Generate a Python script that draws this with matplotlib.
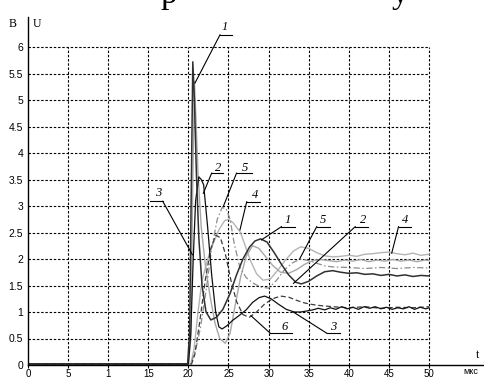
import matplotlib
matplotlib.use("Agg")
import matplotlib.pyplot as plt

# ---------------- data ----------------
x_ticks = [0, 5, 10, 15, 20, 25, 30, 35, 40, 45, 50]
x_tick_labels = ["0", "5", "1", "15", "20", "25", "30", "35", "40", "45", "50"]
y_ticks = [0, 0.5, 1, 1.5, 2, 2.5, 3, 3.5, 4, 4.5, 5, 5.5, 6]
y_tick_labels = ["0", "0.5", "1", "1.5", "2", "2.5", "3", "3.5", "4", "4.5", "5", "5.5", "6"]

# curve 1 (dark, spike)
t1 = [0, 19.9, 20.15, 20.35, 20.55, 20.75, 21.0, 21.3, 21.7, 22.2, 22.8, 23.5, 24.3, 25.2, 26.0,
      26.8, 27.6, 28.3, 29.0, 29.8, 30.7, 31.6, 32.5, 33.4, 34.1, 35.0, 36.0, 37.0, 38.0, 39.0,
      40.0, 41.0, 42.0, 43.0, 44.0, 45.0, 46.0, 47.0, 48.0, 49.0, 50.0]
v1 = [0.02, 0.02, 0.6, 3.2, 5.72, 5.0, 3.6, 2.4, 1.5, 1.0, 0.85, 0.9, 1.05, 1.35, 1.7,
      2.0, 2.22, 2.34, 2.38, 2.32, 2.12, 1.9, 1.7, 1.56, 1.53, 1.58, 1.68, 1.76, 1.78, 1.75,
      1.73, 1.74, 1.71, 1.72, 1.69, 1.71, 1.68, 1.7, 1.67, 1.69, 1.68]

# curve 2 (black, peak 3.55)
t2 = [0, 20.0, 20.3, 20.6, 20.9, 21.3, 21.6, 21.9, 22.4, 22.9, 23.4, 23.8, 24.2, 24.8, 25.5,
      26.3, 27.2, 28.0, 28.8, 29.5, 30.3, 31.2, 32.2, 33.2, 34.0, 34.8, 35.5, 36.2, 37.0, 37.7,
      38.4, 39.1, 39.8, 40.5, 41.2, 41.9, 42.6, 43.3, 44.0, 44.7, 45.4, 46.1, 46.8, 47.5, 48.2,
      48.9, 49.6, 50.0]
v2 = [0.02, 0.02, 0.6, 2.0, 3.1, 3.55, 3.5, 3.4, 2.6, 1.7, 1.0, 0.72, 0.68, 0.74, 0.84,
      0.93, 1.04, 1.18, 1.27, 1.3, 1.25, 1.15, 1.05, 1.0, 1.0, 1.02, 1.04, 1.07, 1.04, 1.08,
      1.05, 1.1, 1.06, 1.09, 1.05, 1.1, 1.07, 1.1, 1.06, 1.09, 1.05, 1.08, 1.06, 1.1, 1.05,
      1.09, 1.06, 1.08]

# curve 1' (light gray spike)
t3 = [0, 20.0, 20.3, 20.55, 20.75, 20.95, 21.2, 21.6, 22.1, 22.7, 23.3, 23.9, 24.6, 25.2, 25.8,
      26.5, 27.2, 28.0, 28.8, 29.6, 30.5, 31.5, 32.5, 33.5, 34.5, 35.5, 36.5, 37.5, 38.5, 39.5,
      40.5, 41.5, 42.5, 43.5, 44.5, 45.5, 46.5, 47.5, 48.5, 49.5, 50.0]
v3 = [0.02, 0.02, 0.5, 3.5, 5.35, 4.6, 3.6, 2.6, 1.9, 1.3, 0.8, 0.5, 0.41, 0.6, 1.1,
      1.65, 2.05, 2.25, 2.2, 2.05, 1.88, 1.75, 1.73, 1.8, 1.9, 1.97, 1.99, 1.97, 1.95, 1.98,
      1.96, 1.99, 1.95, 1.98, 1.96, 1.99, 1.96, 1.98, 1.95, 1.98, 1.97]

# curve 4 (light gray)
t4 = [0, 20.3, 20.7, 21.2, 21.7, 22.7, 23.8, 24.5, 25.0, 25.6, 26.5, 27.2, 27.8, 28.5, 29.3,
      30.2, 31.1, 32.1, 33.1, 34.0, 35.0, 36.0, 37.0, 38.0, 39.0, 40.0, 41.0, 42.0, 43.0, 44.0,
      45.0, 46.0, 47.0, 48.0, 49.0, 50.0]
v4 = [0.02, 0.02, 0.3, 1.0, 1.6, 2.15, 2.55, 2.72, 2.75, 2.68, 2.5, 2.2, 1.95, 1.72, 1.6,
      1.62, 1.78, 1.98, 2.15, 2.23, 2.2, 2.12, 2.06, 2.04, 2.05, 2.07, 2.05, 2.09, 2.1, 2.12,
      2.13, 2.1, 2.08, 2.11, 2.07, 2.09]

# curve 5 (dash-dot)
t5 = [0, 20.3, 20.6, 21.0, 21.5, 22.2, 22.9, 23.6, 24.2, 24.7, 25.2, 25.7, 26.4, 27.2, 28.0,
      29.0, 30.0, 31.0, 32.0, 33.0, 34.0, 35.0, 36.0, 37.0, 38.0, 40.0, 42.0, 44.0, 46.0, 48.0, 50.0]
v5 = [0.02, 0.02, 0.15, 0.35, 0.7, 1.4, 2.2, 2.75, 2.97, 2.95, 2.75, 2.3, 1.85, 1.65, 1.55,
      1.47, 1.45, 1.6, 1.8, 1.93, 2.0, 1.97, 1.92, 1.87, 1.85, 1.84, 1.82, 1.84, 1.82, 1.84, 1.83]

# curve 6 (dashed)
t6 = [0, 20.4, 20.8, 21.4, 22.1, 22.8, 23.4, 24.0, 24.6, 25.3, 26.0, 26.8, 27.6, 28.5, 29.5,
      30.5, 31.5, 32.5, 33.5, 34.5, 35.5, 36.5, 38.0, 40.0, 42.0, 44.0, 46.0, 48.0, 50.0]
v6 = [0.02, 0.02, 0.2, 0.8, 1.6, 2.2, 2.45, 2.4, 2.1, 1.6, 1.2, 0.95, 0.9, 1.0, 1.15,
      1.25, 1.3, 1.28, 1.22, 1.17, 1.14, 1.12, 1.1, 1.08, 1.1, 1.07, 1.09, 1.08, 1.1]

# labels: text, text position, underline, leader end
labels = ["1", "2", "5", "4", "3", "1", "5", "2", "4", "6", "3"]
label_xy = [(24.56, 6.38), (23.7, 3.72), (27.06, 3.72), (28.3, 3.21), (16.2, 3.24),
            (32.4, 2.74), (36.8, 2.74), (41.8, 2.74), (47.0, 2.74), (32.0, 0.72), (38.07, 0.72)]
under_x = [(23.94, 25.44), (22.9, 24.35), (26.0, 27.9), (27.27, 28.93), (15.2, 16.8),
           (31.6, 33.3), (36.0, 37.66), (40.8, 42.4), (46.2, 47.8), (30.2, 32.9), (37.25, 38.9)]
under_y = [6.23, 3.62, 3.62, 3.08, 3.09, 2.61, 2.61, 2.61, 2.61, 0.60, 0.60]
leader_end = [(20.82, 5.32), (21.86, 3.24), (24.35, 2.99), (26.43, 2.55), (20.5, 2.08),
              (29.1, 2.36), (33.9, 2.01), (33.1, 1.54), (45.35, 2.11), (27.8, 0.93), (33.08, 1.0)]
leader_from_right = [False, False, False, False, True, False, False, False, False, False, False]

# ---------------- figure ----------------
W, H = 484, 378
X0, Y0, YT = 28, 365, 17
PPX, PPY = 8.02, 53.0
fig = plt.figure(figsize=(W / 100, H / 100), dpi=100)
fig.patch.set_facecolor("white")
ax = fig.add_axes([X0 / W, (H - Y0) / H, (W - X0) / W, (Y0 - YT) / H])
ax.set_xlim(0, (W - X0) / PPX)
ax.set_ylim(0, (Y0 - YT) / PPY)
for s in ("top", "right"):
    ax.spines[s].set_visible(False)
for s in ("left", "bottom"):
    ax.spines[s].set_linewidth(1.0)
    ax.spines[s].set_color("black")

grid_kw = dict(colors="black", linewidth=0.8, linestyles=(0, (2.2, 1.6)))
ax.vlines(x_ticks[1:], 0, y_ticks[-1], **grid_kw)
ax.hlines(y_ticks[1:], 0, x_ticks[-1], **grid_kw)

ax.set_xticks(x_ticks, x_tick_labels)
ax.set_yticks(y_ticks, y_tick_labels)
ax.tick_params(axis="x", length=2.5, width=0.8, direction="out", pad=0.3,
               labelsize=7, colors="black")
ax.tick_params(axis="y", length=0, pad=3.5, labelsize=7.5, colors="black")
for lab in ax.get_xticklabels() + ax.get_yticklabels():
    lab.set_fontfamily("Liberation Sans")

# curves
ax.plot(t4, v4, color="#b4b4b4", lw=1.0)
ax.plot(t3, v3, color="#a8a8a8", lw=1.0)
ax.plot(t5, v5, color="#8c8c8c", lw=0.9, linestyle=(0, (5, 2, 1.2, 2)))
ax.plot(t6, v6, color="#3c3c3c", lw=0.9, linestyle=(0, (4, 2.2)))
ax.plot(t2, v2, color="#101010", lw=0.9)
ax.plot(t1, v1, color="#303030", lw=1.1)

# labels with leaders
for txt, (lx, ly), (ux0, ux1), uy, (ex, ey), fr in zip(labels, label_xy, under_x, under_y,
                                                         leader_end, leader_from_right):
    ax.text(lx, ly, txt, ha="center", va="center", fontsize=9, style="italic",
            family="Liberation Serif", color="black")
    ax.plot([ux0, ux1], [uy, uy], color="black", lw=0.8)
    sx = ux1 if fr else ux0
    ax.plot([sx, ex], [uy, ey], color="black", lw=0.8)

# axis captions
fig.text(12.5 / W, 1 - 24 / H, "B", ha="center", va="center", fontsize=8.5,
         family="Liberation Serif")
fig.text(36.5 / W, 1 - 24 / H, "U", ha="center", va="center", fontsize=8.5,
         family="Liberation Serif")
fig.text(478 / W, 1 - 355 / H, "t", ha="center", va="center", fontsize=8.5,
         family="Liberation Serif")
fig.text(471 / W, 1 - 371 / H, "мкс", ha="center", va="center", fontsize=6.5,
         family="Liberation Sans")

# title remnants (cut off at top)
fig.text(160 / W, 1 - 3 / H, "р", ha="left", va="baseline", fontsize=24,
         family="Liberation Serif")
fig.text(392 / W, 1 - 3 / H, "у", ha="left", va="baseline", fontsize=24,
         family="Liberation Serif")

fig.savefig("out.png", dpi=100, facecolor="white")
